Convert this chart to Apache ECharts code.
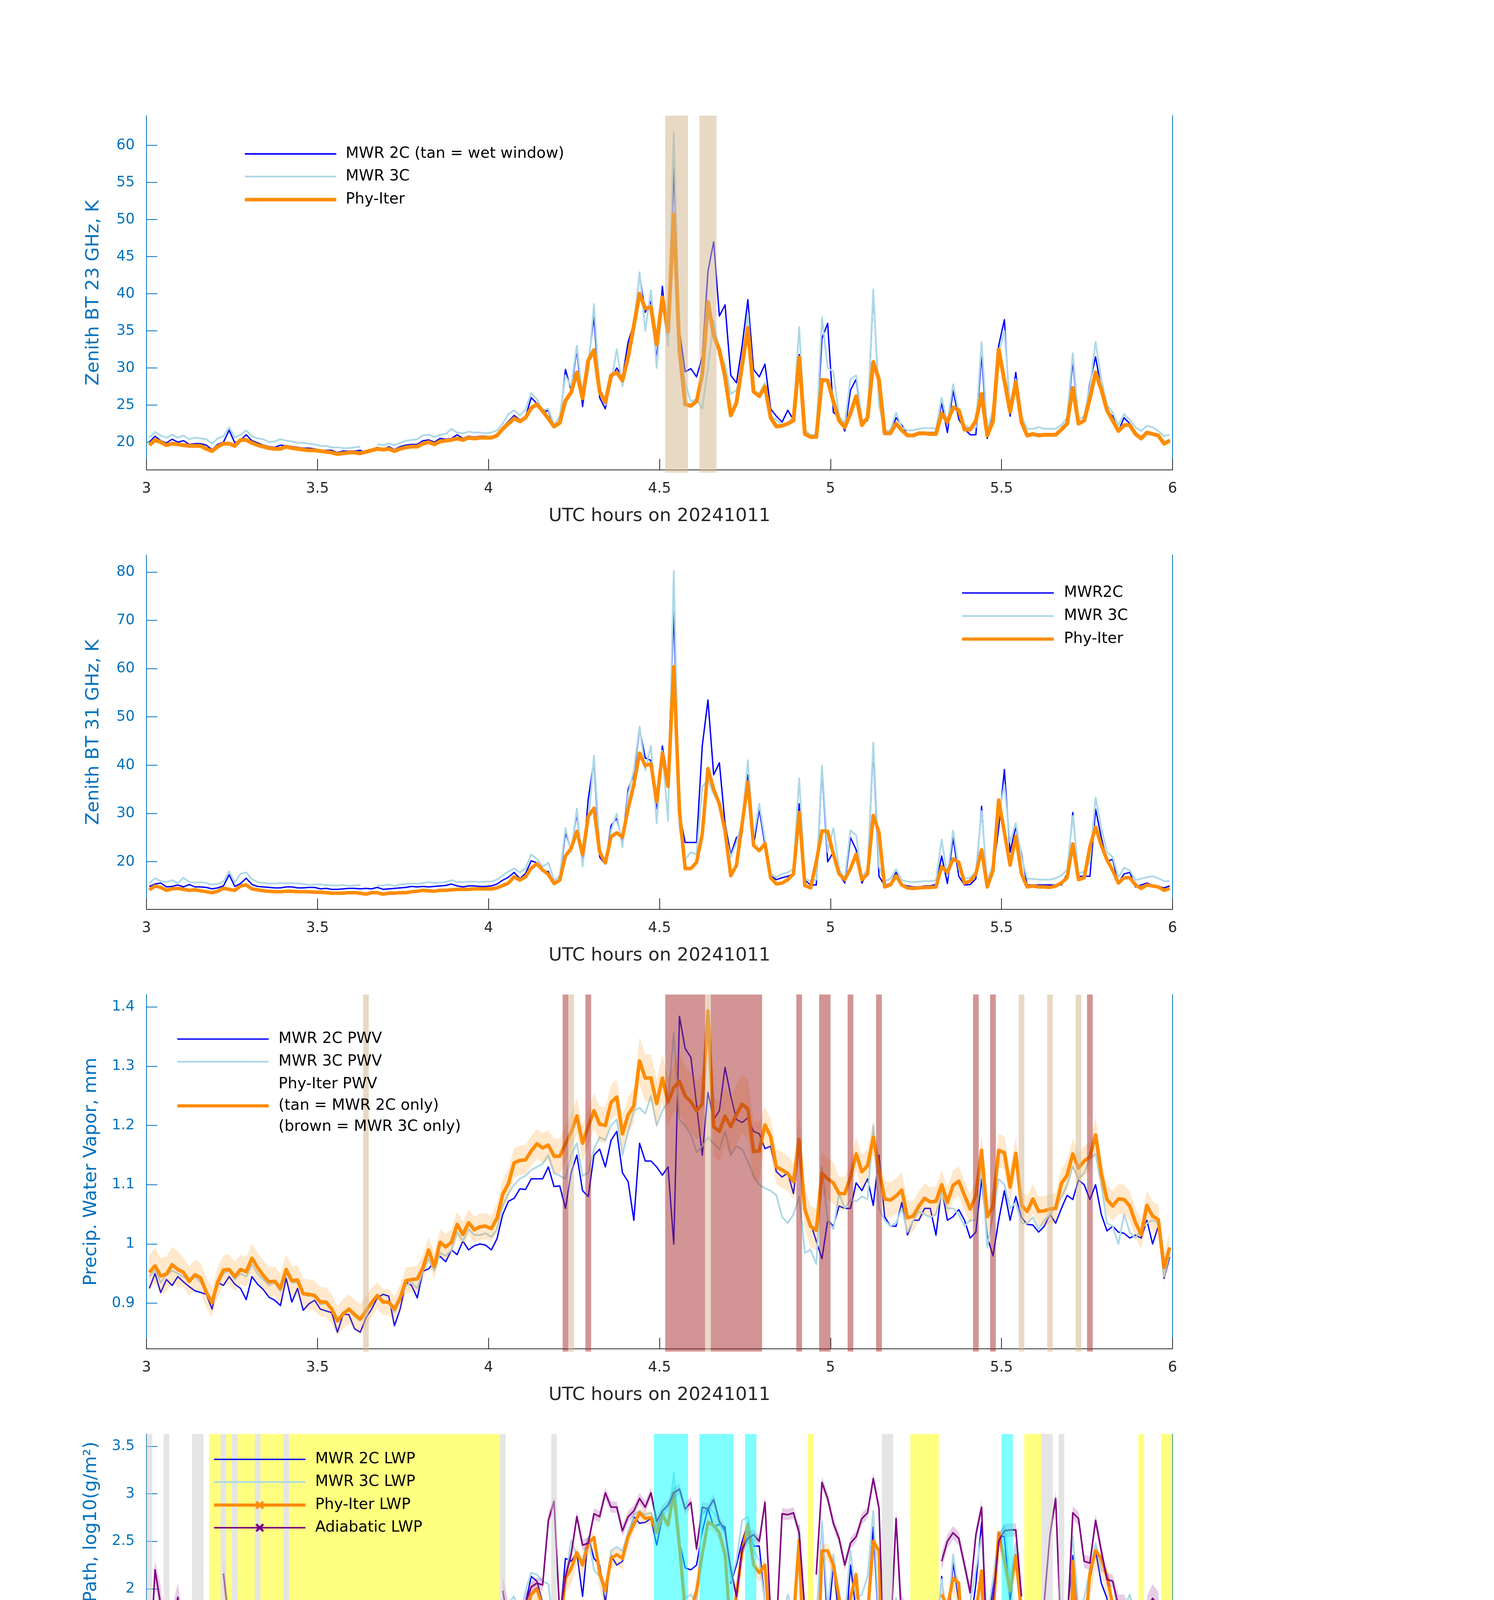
<!DOCTYPE html>
<html>
<head>
<meta charset="utf-8">
<title>MWR retrievals 20241011</title>
<script src="https://cdn.jsdelivr.net/npm/echarts@6/dist/echarts.min.js"></script>
<style>
    html, body { margin: 0; padding: 0; background: #fff; }
    #chart { width: 3825px; height: 6000px; }
</style>
</head>
<body>
<div id="chart"></div>
<script>
    // one value per minute, centred on the half minute, 3 to 6 UTC
    var hours = [];
    for (var k = 0; k < 180; k++) hours.push(3 + (k + 0.5) / 60);

    var xTicks = [3, 3.5, 4, 4.5, 5, 5.5, 6];
    var bt23Ticks = [20, 25, 30, 35, 40, 45, 50, 55, 60];
    var bt31Ticks = [20, 30, 40, 50, 60, 70, 80];
    var pwvTicks = [0.9, 1, 1.1, 1.2, 1.3, 1.4];
    var lwpTicks = [0, 0.5, 1, 1.5, 2, 2.5, 3, 3.5];
    var flagTicks = [0, 2, 4, 6, 8, 10];

    // ---- panel 1: 23 GHz brightness temperature
    var bt23Mwr2c = [
        20.0, 20.8, 20.2, 19.9, 20.4, 20.0, 20.2, 19.7, 19.8, 19.8,
        19.6, 19.0, 19.7, 20.0, 21.6, 19.9, 20.3, 21.0, 20.2, 19.9,
        19.6, 19.4, 19.3, 19.6, 19.5, 19.4, 19.3, 19.2, 19.2, 19.1,
        18.9, 18.9, 18.9, 18.6, 18.8, 18.8, 18.8, 18.9, 18.6, 19.0,
        19.3, 19.0, 19.4, 19.0, 19.4, 19.6, 19.7, 19.7, 20.2, 20.3,
        20.0, 20.5, 20.4, 20.5, 21.0, 20.5, 20.8, 20.7, 20.8, 20.8,
        20.7, 21.0, 22.0, 22.8, 23.6, 23.0, 23.4, 26.0, 25.2, 24.0,
        24.3, 22.0, 22.8, 29.8, 27.0, 32.5, 24.8, 30.5, 37.0, 26.0,
        24.5, 28.5, 30.0, 28.8, 33.5, 36.0, 42.5, 37.5, 39.0, 31.0,
        41.0, 33.5, 57.0, 35.0, 29.5, 29.9, 28.8, 31.5, 43.0, 47.0,
        37.0, 38.5, 29.0, 28.0, 33.0, 39.2, 29.8, 28.8, 30.5, 24.5,
        23.5, 22.7, 24.3, 23.0, 31.8, 21.3, 20.9, 20.9, 34.0, 36.0,
        24.0, 23.5, 21.5, 27.0, 28.5, 22.7, 22.9, 40.0, 26.0, 21.3,
        21.1, 23.3, 22.3, 21.0, 20.9, 21.3, 21.3, 21.3, 21.3, 25.3,
        21.3, 27.0, 23.1, 21.8, 21.0, 21.0, 32.0, 20.5, 24.0, 33.0,
        36.5, 23.5, 29.4, 23.1, 20.9, 21.0, 21.1, 21.0, 21.1, 21.1,
        21.5, 22.7, 31.0, 22.7, 22.9, 28.0, 31.5, 27.1, 24.3, 23.5,
        21.5, 23.3, 22.5, 21.3, 20.7, 21.1, 21.0, 20.8, 19.9, 20.3
    ];
    var bt23Mwr3c = [
        20.6, 21.4, 20.9, 20.6, 21.0, 20.6, 20.9, 20.4, 20.6, 20.5,
        20.4, 19.8, 20.5, 20.8, 22.0, 20.6, 21.0, 21.6, 20.8, 20.5,
        20.4, 20.0, 20.1, 20.4, 20.2, 20.1, 19.9, 19.9, 19.8, 19.7,
        19.5, 19.5, 19.3, 19.3, 19.2, 19.2, 19.3, 19.4, null, null,
        19.7, 19.6, 19.8, 19.6, 19.9, 20.2, 20.3, 20.4, 20.9, 21.0,
        20.7, 21.0, 21.1, 21.8, 21.3, 21.2, 21.4, 21.3, 21.3, 21.2,
        21.3, 21.6, 22.5, 23.8, 24.3, 23.6, 24.4, 26.6, 25.8, 24.3,
        24.5, 22.3, 23.5, 29.0, 27.5, 33.0, 26.0, 29.5, 38.6, 27.0,
        25.0, 28.0, 32.5, 27.5, 32.0, 35.5, 42.9, 35.0, 40.5, 30.0,
        39.0, 33.0, 61.8, 33.0, 28.0, 25.5, 25.8, 24.5, 30.0, 36.4,
        32.0, 30.5, 26.5, 27.0, 30.0, 37.4, 27.0, 26.5, 28.0, 23.5,
        23.0, 22.3, 22.5, 23.5, 35.5, 21.6, 21.0, 21.0, 36.8, 30.0,
        29.5, 23.5, 22.5, 28.5, 29.0, 23.0, 23.0, 40.6, 25.0, 21.5,
        21.6, 24.0, 22.0, 21.6, 21.6, 21.8, 21.9, 21.9, 21.8, 26.0,
        22.5, 27.8, 24.0, 22.3, 21.8, 22.0, 33.5, 21.5, 24.5, 32.0,
        35.0, 25.0, 28.5, 23.5, 21.8, 21.8, 22.0, 21.8, 21.8, 21.8,
        22.3, 23.3, 32.0, 23.0, 23.5, 27.5, 33.5, 28.5, 25.0, 24.0,
        22.3, 23.8, 23.0, 22.0, 21.5, 22.2, 22.0, 21.5, 20.8, 21.0
    ];
    var bt23Phy = [
        19.6, 20.3, 20.0, 19.6, 19.8, 19.7, 19.6, 19.5, 19.5, 19.5,
        19.1, 18.8, 19.4, 19.8, 19.8, 19.5, 20.3, 20.3, 19.9, 19.6,
        19.4, 19.2, 19.1, 19.1, 19.4, 19.2, 19.1, 19.0, 18.9, 18.9,
        18.8, 18.7, 18.6, 18.4, 18.5, 18.6, 18.6, 18.5, 18.7, 18.9,
        19.1, 19.0, 19.1, 18.8, 19.1, 19.3, 19.4, 19.4, 19.8, 20.0,
        19.7, 20.1, 20.2, 20.3, 20.5, 20.3, 20.6, 20.5, 20.6, 20.6,
        20.6, 20.9, 21.8, 22.5, 23.2, 22.8, 23.3, 24.6, 25.1, 24.2,
        23.2, 22.1, 22.6, 25.6, 26.7, 29.4, 25.9, 31.0, 32.4, 26.8,
        25.4, 29.0, 29.4, 28.3, 31.5, 35.7, 40.0, 38.0, 38.2, 33.2,
        39.5, 34.9, 50.7, 32.4, 25.1, 24.9, 25.5, 29.1, 38.9, 34.4,
        32.4, 28.8, 23.6, 25.3, 30.4, 35.4, 26.8, 26.2, 27.5, 23.3,
        22.1, 22.2, 22.5, 22.9, 31.4, 21.1, 20.7, 20.7, 28.4, 28.3,
        25.5, 22.9, 22.0, 23.9, 26.2, 22.3, 23.3, 30.8, 28.4, 21.2,
        21.2, 22.5, 21.6, 20.9, 20.9, 21.2, 21.2, 21.1, 21.1, 23.9,
        22.7, 24.7, 24.3, 21.7, 21.7, 22.9, 26.5, 20.9, 22.8, 32.5,
        28.3, 24.1, 28.1, 22.7, 20.9, 21.1, 20.9, 21.0, 21.0, 21.0,
        21.7, 22.5, 27.3, 22.5, 22.9, 25.9, 29.4, 27.1, 24.3, 22.9,
        21.5, 22.3, 22.3, 21.1, 20.5, 21.3, 21.1, 20.9, 19.8, 20.2
    ];
    var wetWindows = [[4.5167, 4.5833], [4.6167, 4.6667]];

    // ---- panel 2: 31 GHz brightness temperature
    var bt31Mwr2c = [
        14.9, 15.4, 15.6, 14.8, 14.9, 15.2, 14.8, 15.3, 14.8, 14.8,
        14.7, 14.4, 14.6, 15.0, 17.3, 14.9, 15.5, 16.6, 15.3, 14.9,
        14.8, 14.7, 14.6, 14.6, 14.8, 14.8, 14.6, 14.6, 14.7, 14.7,
        14.4, 14.5, 14.3, 14.3, 14.4, 14.5, 14.5, 14.4, 14.5, 14.4,
        14.7, 14.3, 14.4, 14.5, 14.6, 14.7, 14.9, 14.8, 14.9, 14.8,
        14.9, 15.0, 15.1, 15.4, 15.0, 14.8, 15.0, 15.0, 14.9, 14.9,
        15.0, 15.4, 16.2, 16.8, 17.8, 16.5, 17.6, 20.2, 19.8, 18.0,
        18.0, 15.6, 16.5, 26.0, 22.5, 30.0, 19.5, 33.0, 41.0, 21.0,
        19.5, 27.5, 29.0, 24.0, 35.0, 38.0, 47.5, 41.5, 41.0, 31.0,
        44.0, 37.0, 72.0, 30.0, 24.0, 24.0, 24.0, 44.0, 53.5, 38.0,
        40.5, 27.9, 21.5, 25.0, 26.0, 38.0, 23.4, 30.9, 23.4, 17.1,
        16.3, 16.7, 17.0, 17.5, 32.0, 16.2, 15.2, 15.2, 39.1, 20.0,
        22.0, 17.5, 15.6, 25.0, 22.5, 15.6, 18.0, 43.5, 17.0, 15.1,
        15.5, 17.8, 15.3, 15.0, 14.8, 14.8, 15.0, 15.0, 15.3, 21.2,
        15.5, 25.0, 17.0, 15.2, 15.3, 16.5, 31.5, 14.8, 18.0, 27.0,
        39.1, 22.0, 27.2, 21.6, 15.2, 15.2, 15.2, 15.2, 15.2, 15.2,
        15.2, 17.5, 30.2, 17.0, 17.0, 17.0, 30.9, 25.0, 20.1, 20.5,
        15.6, 17.5, 17.8, 14.8, 15.2, 15.6, 15.2, 14.9, 14.6, 15.0
    ];
    var bt31Mwr3c = [
        15.6, 16.6, 16.0, 15.8, 16.2, 15.6, 16.7, 15.8, 15.7, 15.8,
        15.6, 15.3, 15.4, 15.9, 18.0, 15.7, 17.5, 17.8, 16.4, 15.8,
        15.6, 15.5, 15.5, 15.6, 15.5, 15.6, 15.5, 15.4, 15.2, 15.3,
        15.3, 15.2, 15.1, 15.1, 15.2, 15.0, 15.1, 15.2, null, null,
        15.1, 15.1, 15.3, 15.0, 15.3, 15.4, 15.5, 15.4, 15.6, 15.8,
        15.6, 15.7, 15.8, 16.2, 15.8, 15.8, 15.9, 15.9, 15.8, 15.9,
        15.9, 16.3, 17.2, 18.0, 18.6, 17.8, 18.6, 21.5, 20.6, 19.0,
        19.8, 16.2, 17.0, 27.0, 22.0, 31.0, 19.0, 28.0, 42.0, 23.0,
        19.5, 26.5, 30.0, 23.0, 34.0, 39.0, 48.0, 39.0, 44.0, 28.0,
        43.0, 28.5, 80.2, 27.0, 20.5, 22.0, 21.5, 35.5, 37.0, 34.0,
        32.0, 26.0, 21.0, 24.0, 28.0, 41.0, 25.0, 32.0, 24.5, 17.5,
        16.8, 17.5, 17.8, 18.5, 37.3, 16.5, 16.0, 16.3, 39.9, 22.0,
        27.0, 18.5, 16.5, 26.5, 25.5, 16.8, 18.5, 44.7, 19.0, 16.0,
        16.5, 18.5, 16.2, 15.9, 15.8, 15.9, 16.0, 16.0, 16.2, 24.6,
        17.0, 26.5, 18.5, 16.5, 16.7, 18.0, 30.5, 16.0, 19.5, 29.5,
        36.0, 24.0, 28.0, 21.0, 16.5, 16.5, 16.3, 16.3, 16.3, 16.6,
        17.2, 18.3, 29.5, 17.5, 18.0, 20.0, 33.3, 27.0, 22.0, 21.0,
        16.8, 18.8, 18.2, 16.2, 16.5, 16.8, 17.0, 16.6, 16.0, 16.0
    ];
    var bt31Phy = [
        14.2, 15.0, 14.7, 14.1, 14.4, 14.5, 14.3, 14.1, 14.2, 14.0,
        13.8, 13.6, 13.9, 14.5, 14.3, 14.1, 15.0, 15.2, 14.4, 14.2,
        14.0, 13.9, 13.8, 13.8, 13.9, 13.9, 13.8, 13.8, 13.8, 13.7,
        13.7, 13.6, 13.5, 13.5, 13.5, 13.6, 13.6, 13.5, 13.3, 13.6,
        13.6, 13.3, 13.5, 13.5, 13.6, 13.6, 13.8, 13.9, 14.1, 14.0,
        13.9, 14.1, 14.1, 14.2, 14.3, 14.3, 14.3, 14.4, 14.4, 14.4,
        14.4, 14.6, 15.1, 15.6, 16.9, 16.2, 16.9, 18.7, 19.6, 18.3,
        17.4, 15.5, 16.2, 21.2, 22.8, 26.3, 21.5, 29.4, 31.1, 22.0,
        19.8, 25.2, 26.0, 25.1, 31.0, 36.0, 42.5, 39.9, 40.3, 32.4,
        42.5, 35.6, 60.4, 30.5, 18.6, 18.6, 19.9, 25.7, 39.3, 35.0,
        32.0, 26.4, 17.1, 19.3, 27.9, 36.5, 23.4, 22.3, 23.8, 16.7,
        15.4, 15.6, 16.3, 17.5, 30.2, 15.1, 14.6, 20.0, 26.4, 26.3,
        21.6, 17.5, 16.3, 18.6, 21.6, 16.3, 17.5, 29.6, 26.1, 14.8,
        15.2, 17.1, 15.2, 14.6, 14.5, 14.6, 14.7, 14.7, 14.8, 19.0,
        17.8, 20.6, 19.9, 15.6, 16.0, 17.5, 22.5, 14.8, 18.2, 32.8,
        26.1, 19.3, 25.3, 17.5, 14.8, 15.0, 14.8, 14.8, 14.7, 15.0,
        15.6, 16.7, 23.7, 16.3, 16.7, 23.1, 27.2, 23.4, 20.4, 18.2,
        15.6, 16.7, 16.7, 15.2, 14.5, 15.2, 15.0, 14.8, 14.1, 14.5
    ];

    // ---- panel 3: precipitable water vapour
    var pwvMwr2c = [
        0.925, 0.950, 0.918, 0.940, 0.930, 0.945, 0.936, 0.928, 0.921, 0.918,
        0.915, 0.890, 0.935, 0.930, 0.945, 0.932, 0.925, 0.906, 0.945, 0.932,
        0.923, 0.910, 0.905, 0.896, 0.942, 0.902, 0.925, 0.888, 0.899, 0.905,
        0.890, 0.887, 0.884, 0.851, 0.881, 0.881, 0.857, 0.851, 0.875, 0.890,
        0.909, 0.915, 0.912, 0.862, 0.890, 0.936, 0.930, 0.909, 0.954, 0.958,
        0.970, 0.979, 0.970, 0.990, 0.982, 1.005, 0.990, 0.997, 1.000, 0.998,
        0.990, 1.009, 1.050, 1.072, 1.077, 1.093, 1.092, 1.110, 1.110, 1.110,
        1.130, 1.097, 1.098, 1.060, 1.120, 1.150, 1.090, 1.080, 1.150, 1.160,
        1.130, 1.175, 1.190, 1.120, 1.105, 1.040, 1.170, 1.140, 1.140, 1.130,
        1.116, 1.130, 1.000, 1.384, 1.330, 1.315, 1.235, 1.150, 1.256, 1.210,
        1.225, 1.298, 1.250, 1.210, 1.205, 1.213, 1.190, 1.186, 1.161, 1.165,
        1.122, 1.113, 1.120, 1.085, 1.165, 1.052, 1.035, 1.005, 0.975, 1.040,
        1.030, 1.064, 1.060, 1.060, 1.103, 1.090, 1.110, 1.065, 1.150, 1.046,
        1.030, 1.030, 1.070, 1.015, 1.040, 1.040, 1.060, 1.060, 1.015, 1.094,
        1.040, 1.046, 1.058, 1.040, 1.010, 1.020, 1.110, 1.012, 0.980, 1.040,
        1.090, 1.040, 1.080, 1.045, 1.033, 1.032, 1.020, 1.030, 1.050, 1.035,
        1.060, 1.082, 1.075, 1.108, 1.100, 1.075, 1.100, 1.050, 1.022, 1.030,
        1.020, 1.018, 1.010, 1.015, 1.010, 1.040, 1.000, 1.030, 0.942, 0.978
    ];
    var pwvMwr3c = [
        0.945, 0.955, 0.935, 0.948, 0.955, 0.950, 0.945, 0.938, 0.945, 0.935,
        0.920, 0.900, 0.930, 0.950, 0.955, 0.940, 0.950, 0.945, 0.965, 0.950,
        0.940, 0.930, 0.935, 0.920, 0.950, 0.935, 0.935, 0.915, 0.912, 0.915,
        0.898, 0.900, 0.890, 0.870, 0.885, 0.888, 0.878, 0.870, null, null,
        0.910, 0.905, 0.900, 0.885, 0.905, 0.930, 0.935, 0.925, 0.955, 0.975,
        0.955, 0.985, 0.980, 0.990, 1.020, 1.005, 1.025, 1.015, 1.015, 1.018,
        1.012, 1.025, 1.065, 1.085, 1.100, 1.110, 1.115, 1.125, 1.130, 1.135,
        1.150, 1.120, 1.115, 1.110, 1.150, 1.170, 1.115, 1.120, 1.160, 1.180,
        1.175, 1.200, 1.210, 1.150, 1.190, 1.225, 1.230, 1.220, 1.250, 1.200,
        1.225, 1.240, 1.356, 1.210, 1.200, 1.185, 1.155, 1.165, 1.180, 1.170,
        1.160, 1.190, 1.150, 1.165, 1.160, 1.140, 1.115, 1.100, 1.094, 1.090,
        1.082, 1.046, 1.035, 1.050, 1.080, 0.985, 0.990, 0.966, 1.130, 1.040,
        1.025, 1.085, 1.060, 1.075, 1.072, 1.080, 1.076, 1.200, 1.060, 1.040,
        1.030, 1.035, 1.060, 1.020, 1.040, 1.055, 1.050, 1.045, 1.050, 1.088,
        1.060, 1.060, 1.050, 1.030, 1.040, 1.040, 1.131, 0.995, 1.050, 1.110,
        1.100, 1.060, 1.070, 1.035, 1.035, 1.045, 1.025, 1.040, 1.050, 1.065,
        1.078, 1.100, 1.131, 1.110, 1.120, 1.143, 1.152, 1.100, 1.035, 1.030,
        1.000, 1.050, 1.020, 1.010, 1.025, 1.035, 1.040, 1.035, 0.945, 0.985
    ];
    var pwvPhy = [
        0.952, 0.963, 0.946, 0.949, 0.965, 0.957, 0.952, 0.937, 0.948, 0.943,
        0.918, 0.901, 0.936, 0.956, 0.957, 0.945, 0.957, 0.953, 0.976, 0.960,
        0.947, 0.936, 0.937, 0.925, 0.957, 0.938, 0.939, 0.916, 0.915, 0.913,
        0.902, 0.902, 0.890, 0.870, 0.882, 0.890, 0.881, 0.873, 0.887, 0.901,
        0.913, 0.902, 0.902, 0.890, 0.909, 0.938, 0.940, 0.941, 0.960, 0.990,
        0.962, 1.003, 0.995, 1.003, 1.033, 1.016, 1.036, 1.024, 1.029, 1.030,
        1.026, 1.044, 1.084, 1.102, 1.137, 1.141, 1.142, 1.157, 1.169, 1.162,
        1.167, 1.148, 1.148, 1.169, 1.189, 1.216, 1.170, 1.198, 1.225, 1.202,
        1.200, 1.239, 1.248, 1.186, 1.218, 1.233, 1.309, 1.280, 1.280, 1.237,
        1.280, 1.240, 1.264, 1.274, 1.250, 1.240, 1.225, 1.236, 1.393, 1.198,
        1.190, 1.216, 1.198, 1.219, 1.236, 1.228, 1.156, 1.157, 1.201, 1.181,
        1.130, 1.125, 1.119, 1.105, 1.176, 1.058, 1.030, 1.023, 1.119, 1.110,
        1.103, 1.085, 1.085, 1.113, 1.152, 1.122, 1.132, 1.180, 1.125, 1.076,
        1.074, 1.081, 1.091, 1.044, 1.047, 1.064, 1.077, 1.071, 1.072, 1.100,
        1.070, 1.099, 1.106, 1.082, 1.059, 1.082, 1.158, 1.046, 1.064, 1.158,
        1.154, 1.096, 1.153, 1.065, 1.055, 1.076, 1.055, 1.056, 1.059, 1.060,
        1.102, 1.116, 1.152, 1.128, 1.140, 1.147, 1.184, 1.119, 1.075, 1.064,
        1.076, 1.075, 1.064, 1.036, 1.016, 1.065, 1.047, 1.041, 0.960, 0.994
    ];
    var pwvPhyErr = [
        0.030, 0.030, 0.030, 0.030, 0.030, 0.030, 0.025, 0.025, 0.025, 0.025,
        0.025, 0.025, 0.025, 0.025, 0.025, 0.025, 0.025, 0.025, 0.025, 0.025,
        0.025, 0.025, 0.025, 0.025, 0.025, 0.025, 0.025, 0.025, 0.025, 0.025,
        0.025, 0.025, 0.025, 0.025, 0.025, 0.025, 0.025, 0.025, 0.025, 0.025,
        0.022, 0.022, 0.022, 0.022, 0.022, 0.022, 0.022, 0.022, 0.022, 0.022,
        0.022, 0.022, 0.022, 0.022, 0.022, 0.022, 0.022, 0.022, 0.022, 0.022,
        0.022, 0.025, 0.025, 0.025, 0.025, 0.025, 0.025, 0.025, 0.025, 0.025,
        0.025, 0.030, 0.030, 0.030, 0.030, 0.030, 0.030, 0.030, 0.030, 0.030,
        0.030, 0.030, 0.030, 0.030, 0.030, 0.030, 0.040, 0.040, 0.040, 0.040,
        0.040, 0.040, 0.040, 0.050, 0.050, 0.050, 0.050, 0.050, 0.050, 0.050,
        0.050, 0.050, 0.050, 0.050, 0.050, 0.050, 0.050, 0.050, 0.030, 0.030,
        0.030, 0.030, 0.030, 0.030, 0.040, 0.035, 0.035, 0.035, 0.035, 0.035,
        0.035, 0.028, 0.028, 0.028, 0.028, 0.028, 0.028, 0.028, 0.028, 0.030,
        0.030, 0.030, 0.030, 0.030, 0.025, 0.025, 0.025, 0.025, 0.025, 0.025,
        0.025, 0.025, 0.025, 0.025, 0.025, 0.025, 0.028, 0.028, 0.028, 0.028,
        0.028, 0.028, 0.028, 0.025, 0.025, 0.025, 0.025, 0.025, 0.025, 0.025,
        0.025, 0.025, 0.025, 0.025, 0.025, 0.025, 0.030, 0.025, 0.025, 0.025,
        0.025, 0.025, 0.025, 0.025, 0.025, 0.025, 0.025, 0.025, 0.025, 0.025
    ];
    var only2cWindows = [[3.6333, 3.65], [4.2333, 4.25], [4.6333, 4.65], [5.55, 5.5667], [5.6333, 5.65], [5.7167, 5.7333]];
    var only3cWindows = [[4.2167, 4.2333], [4.2833, 4.3], [4.5167, 4.6333], [4.65, 4.8], [4.9, 4.9167], [4.9667, 5.0],
        [5.05, 5.0667], [5.1333, 5.15], [5.4167, 5.4333], [5.4667, 5.4833], [5.75, 5.7667]];

    // ---- panel 4: liquid water path, log10(g/m2)
    var lwpMwr2c = [
        1.30, 1.68, 1.52, 1.09, 1.41, 1.26, 1.22, 1.09, 1.20, 1.30,
        1.20, 0.88, 1.13, 1.26, 1.11, 1.16, 1.49, 1.60, 1.30, 1.14,
        1.11, 1.12, 1.18, 1.05, 1.10, 1.20, 1.08, 1.20, 1.10, 1.10,
        1.07, 1.24, 0.97, 1.10, 0.85, 1.10, 1.10, 1.18, 1.05, 1.12,
        1.10, 0.80, 1.05, 1.12, 1.10, 0.95, 1.17, 1.12, 1.16, 1.28,
        1.14, 1.14, 1.13, 1.18, 1.10, 1.24, 1.10, 1.22, 1.28, 1.23,
        1.19, 1.20, 1.40, 1.43, 1.77, 1.60, 1.85, 2.13, 2.08, 1.85,
        1.70, 1.35, 1.64, 2.32, 2.29, 2.38, 1.92, 2.55, 2.32, 2.25,
        1.85, 2.35, 2.25, 2.29, 2.59, 2.76, 2.69, 2.70, 2.74, 2.46,
        2.75, 2.68, 2.95, 2.50, 2.22, 2.20, 2.25, 2.60, 2.85, 2.65,
        2.68, 2.65, 2.06, 2.25, 2.50, 2.69, 2.45, 2.45, 1.85, 1.62,
        1.49, 1.49, 1.65, 1.72, 2.40, 1.50, 1.26, 1.64, 2.70, 1.60,
        2.25, 1.68, 1.40, 2.25, 1.75, 1.50, 1.83, 2.65, 1.56, 1.41,
        1.60, 1.90, 1.18, 1.25, 1.22, 1.15, 1.20, 1.34, 1.36, 2.13,
        1.50, 2.28, 1.87, 1.56, 1.60, 2.05, 2.70, 1.45, 2.05, 2.55,
        2.55, 1.87, 2.36, 1.64, 1.27, 1.35, 1.33, 1.18, 1.30, 1.22,
        1.37, 1.72, 2.35, 1.72, 1.72, 2.10, 2.40, 2.06, 1.90, 1.48,
        1.55, 1.70, 1.79, 1.30, 1.14, 1.45, 1.40, 1.35, 1.21, 1.25
    ];
    var lwpMwr3c = [
        1.45, 1.78, 1.60, 1.45, 1.40, 1.48, 1.42, 1.48, 1.50, 1.40,
        1.48, 1.39, 1.42, 1.80, 1.50, 1.55, 1.85, 1.85, 1.55, 1.48,
        1.45, 1.43, 1.44, 1.45, 1.44, 1.45, 1.44, 1.45, 1.44, 1.42,
        1.41, 1.44, 1.40, 1.38, 1.41, 1.39, 1.38, 1.41, null, null,
        1.40, 1.38, 1.39, 1.41, 1.40, 1.42, 1.41, 1.45, 1.43, 1.48,
        1.47, 1.45, 1.46, 1.45, 1.48, 1.50, 1.46, 1.47, 1.47, 1.48,
        1.47, 1.48, 1.50, 1.85, 1.92, 1.70, 1.98, 2.17, 2.15, 2.08,
        2.05, 1.56, 1.72, 2.10, 2.51, 2.35, 2.30, 2.55, 2.20, 2.13,
        1.94, 2.40, 2.44, 2.40, 2.60, 2.78, 2.82, 2.78, 2.80, 2.67,
        2.80, 2.67, 3.22, 2.55, 1.90, 1.94, 1.85, 2.78, 2.86, 2.80,
        2.70, 2.60, 2.08, 2.30, 2.72, 2.76, 2.40, 2.30, 1.85, 1.64,
        1.55, 1.62, 1.94, 1.75, 2.67, 1.65, 1.50, 1.62, 2.71, 1.80,
        2.36, 1.88, 1.70, 2.40, 1.90, 1.94, 2.13, 2.82, 1.65, 1.50,
        1.52, 1.90, 1.50, 1.49, 1.49, 1.48, 1.50, 1.50, 1.52, 2.10,
        1.65, 2.36, 1.95, 1.65, 1.85, 2.20, 2.55, 1.70, 2.10, 2.55,
        2.67, 2.10, 2.48, 1.80, 1.50, 1.52, 1.53, 1.55, 1.54, 1.50,
        1.55, 1.75, 2.55, 1.80, 1.90, 2.20, 2.48, 2.20, 2.15, 1.85,
        1.80, 1.80, 1.94, 1.65, 1.45, 1.49, 1.45, 1.45, 1.43, 1.42
    ];
    // -0.5 marks a retrieval that falls off the bottom of the log axis
    var lwpPhy = [
        -0.5, 1.30, 1.22, -0.5, 0.82, 0.72, -0.5, null, null, null,
        null, null, null, 0.82, 0.37, -0.5, 1.37, 1.45, 0.57, 0.33,
        null, null, null, null, null, null, null, null, null, null,
        null, null, null, null, null, null, null, null, null, null,
        null, null, null, null, null, null, null, null, null, null,
        null, null, null, null, null, null, null, null, null, null,
        null, null, 0.78, 1.30, 1.62, 1.37, 1.72, 1.94, 2.00, 1.81,
        1.60, 0.50, 1.56, 2.11, 2.21, 2.38, 2.25, 2.48, 2.54, 2.17,
        1.98, 2.32, 2.36, 2.32, 2.55, 2.68, 2.80, 2.74, 2.75, 2.59,
        2.78, 2.67, 3.01, 2.44, 1.77, 1.77, 1.98, 2.36, 2.70, 2.67,
        2.59, 2.36, 1.53, 1.94, 2.40, 2.67, 2.25, 2.17, 2.25, 1.45,
        0.73, 0.99, 1.41, 1.68, 2.51, 0.86, null, 0.69, 2.40, 2.40,
        2.25, 1.91, 1.49, 1.91, 2.15, 1.37, 1.72, 2.50, 2.40, 0.21,
        0.46, 1.66, 0.76, -0.5, null, null, null, null, null, 1.94,
        1.81, 2.11, 2.06, 1.11, 1.37, 1.75, 2.19, 0.54, 1.72, 2.59,
        2.30, 1.98, 2.34, 1.75, null, null, null, -0.5, -0.5, -0.5,
        -0.5, -0.5, 2.29, 1.32, 1.47, 2.17, 2.40, 2.32, 2.13, 1.83,
        1.13, 1.60, 1.65, 1.15, null, 0.92, 0.99, 0.76, null, null
    ];
    var lwpPhyLo = [
        -0.5, -0.5, -0.5, -0.5, -0.5, -0.5, -0.5, -0.5, -0.5, -0.5,
        -0.5, null, null, -0.5, -0.5, -0.5, -0.5, -0.5, -0.5, -0.5,
        null, null, null, null, null, null, null, null, null, null,
        null, null, null, null, null, null, null, null, null, null,
        null, null, null, null, null, null, null, null, null, null,
        null, null, null, null, null, null, null, null, null, null,
        null, null, -0.5, 0.5, 1.2, 1.1, 1.5, 1.75, 1.85, 1.6,
        1.3, -0.5, 1.3, 1.95, 2.05, 2.25, 2.1, 2.35, 2.42, 2.0,
        1.8, 2.2, 2.25, 2.2, 2.45, 2.6, 2.72, 2.67, 2.68, 2.5,
        2.7, 2.6, 2.93, 2.3, 1.5, 1.5, 1.8, 2.28, 2.62, 2.6,
        2.5, 2.25, 0.9, 1.7, 2.3, 2.58, 2.15, 2.07, 2.15, 1.1,
        -0.5, -0.5, 0.6, 1.2, 2.2, -0.5, null, -0.5, 2.3, 2.3,
        2.1, 1.6, 1.0, 1.7, 2.0, 0.8, 1.5, 2.4, 2.3, -0.5,
        -0.5, 1.2, -0.5, -0.5, null, null, null, null, null, 1.7,
        1.6, 1.95, 1.8, -0.5, 0.6, 1.5, 2.0, -0.5, 1.4, 2.45,
        2.15, 1.75, 2.2, 1.55, null, null, null, -0.5, -0.5, -0.5,
        -0.5, -0.5, 1.9, 0.3, 0.9, 1.9, 2.2, 2.15, 1.9, 1.5,
        -0.5, 1.1, 1.2, 0.4, -0.5, -0.5, -0.5, -0.5, null, null
    ];
    var lwpPhyHi = [
        1.35, 1.40, 1.35, 1.30, 1.30, 1.25, 1.10, 1.0, 0.9, 0.8,
        0.7, null, null, 1.0, 0.6, 0.5, 1.5, 1.6, 1.55, 1.45,
        null, null, null, null, null, null, null, null, null, null,
        null, null, null, null, null, null, null, null, null, null,
        null, null, null, null, null, null, null, null, null, null,
        null, null, null, null, null, null, null, null, null, null,
        null, null, 1.3, 1.45, 1.75, 1.5, 1.85, 2.05, 2.1, 1.9,
        1.7, 0.75, 1.7, 2.2, 2.3, 2.45, 2.33, 2.55, 2.6, 2.25,
        2.05, 2.4, 2.42, 2.4, 2.62, 2.75, 2.86, 2.81, 2.82, 2.66,
        2.85, 2.74, 3.08, 2.5, 1.85, 1.85, 2.05, 2.43, 2.77, 2.74,
        2.66, 2.43, 1.6, 2.0, 2.47, 2.74, 2.32, 2.24, 2.32, 1.55,
        0.85, 1.1, 1.5, 1.75, 2.56, 1.0, null, 0.8, 2.47, 2.47,
        2.32, 2.0, 1.6, 2.0, 2.22, 1.45, 1.8, 2.56, 2.46, 0.5,
        0.7, 1.75, 0.9, -0.3, null, null, null, null, null, 2.0,
        1.9, 2.18, 2.12, 1.2, 1.45, 1.82, 2.25, 0.7, 1.8, 2.65,
        2.38, 2.05, 2.4, 1.8, null, null, null, 1.05, 1.05, 1.05,
        1.05, 1.05, 2.35, 1.4, 1.55, 2.22, 2.45, 2.38, 2.2, 1.9,
        1.25, 1.7, 1.72, 1.25, 1.3, 1.3, 1.3, 1.3, null, null
    ];
    var lwpAdia = [
        1.05, 2.20, 1.83, 1.07, 1.60, 1.91, 1.37, 1.18, 1.05, 1.05,
        1.14, null, null, 2.16, 1.64, 1.05, 1.56, 1.73, 1.37, 1.35,
        null, null, null, null, 1.07, null, null, null, null, null,
        null, null, null, null, null, null, null, null, null, null,
        null, null, null, null, null, null, null, null, null, null,
        null, null, null, null, null, null, null, null, null, null,
        null, null, 1.98, 1.64, 1.54, 1.41, 1.85, 2.02, 2.06, 2.04,
        2.72, 2.92, 1.72, 2.13, 2.36, 2.76, 2.46, 2.48, 2.79, 2.76,
        3.01, 2.86, 2.86, 2.61, 2.76, 2.82, 2.95, 2.86, 3.01, 2.71,
        2.82, 2.88, 3.01, 3.05, 2.84, 2.91, 2.42, 2.86, 2.84, 2.94,
        2.71, 2.61, 2.21, 1.92, 2.42, 2.53, 2.57, 2.50, 2.91, 1.72,
        1.58, 2.79, 2.78, 2.80, 2.59, 1.77, null, 2.15, 3.12, 2.95,
        2.69, 2.53, 2.25, 2.48, 2.55, 2.74, 2.80, 3.16, 2.85, 1.11,
        1.45, 2.74, 1.64, 1.30, null, null, null, null, null, 2.29,
        2.50, 2.59, 2.53, 2.25, 1.96, 2.57, 2.86, 1.26, 1.87, 2.50,
        2.61, 2.62, 2.62, 1.92, null, null, null, 1.87, 2.57, 2.95,
        1.39, 1.56, 2.80, 2.74, 2.29, 2.27, 2.72, 2.40, 2.10, 2.08,
        1.82, 1.82, 1.60, 1.30, null, 1.77, 1.90, 1.82, null, null
    ];
    var lwpAdiaErr = [
        0.30, 0.10, 0.20, 0.30, 0.20, 0.15, 0.30, 0.50, 0.60, 0.60,
        0.50, null, null, 0.12, 0.15, 0.30, 0.20, 0.15, 0.10, 0.10,
        null, null, null, null, 0.40, null, null, null, null, null,
        null, null, null, null, null, null, null, null, null, null,
        null, null, null, null, null, null, null, null, null, null,
        null, null, null, null, null, null, null, null, null, null,
        null, null, 0.15, 0.20, 0.25, 0.25, 0.10, 0.06, 0.06, 0.06,
        0.08, 0.06, 0.10, 0.06, 0.06, 0.06, 0.06, 0.06, 0.06, 0.06,
        0.06, 0.06, 0.06, 0.06, 0.06, 0.06, 0.06, 0.06, 0.06, 0.06,
        0.06, 0.06, 0.06, 0.06, 0.06, 0.06, 0.06, 0.06, 0.06, 0.06,
        0.06, 0.06, 0.06, 0.06, 0.06, 0.06, 0.06, 0.06, 0.06, 0.06,
        0.06, 0.06, 0.06, 0.06, 0.06, 0.06, null, 0.10, 0.06, 0.06,
        0.06, 0.06, 0.06, 0.06, 0.06, 0.06, 0.06, 0.06, 0.06, 0.25,
        0.25, 0.10, 0.30, 0.50, null, null, null, null, null, 0.10,
        0.07, 0.07, 0.07, 0.07, 0.07, 0.07, 0.07, 0.10, 0.07, 0.07,
        0.07, 0.07, 0.07, 0.07, null, null, null, 0.12, 0.08, 0.08,
        0.15, 0.15, 0.07, 0.07, 0.07, 0.07, 0.07, 0.07, 0.07, 0.07,
        0.12, 0.12, 0.20, 0.40, null, 0.15, 0.15, 0.15, null, null
    ];
    var flagOtherWindows = [[3.0, 3.0167], [3.05, 3.0667], [3.1333, 3.1667], [3.2167, 3.2333], [3.25, 3.2667],
        [3.3167, 3.3333], [3.4, 3.4167], [4.0333, 4.05], [4.1833, 4.2], [5.15, 5.1833], [5.6167, 5.65], [5.6667, 5.6833]];
    var clearWindows = [[3.1833, 3.2167], [3.2333, 3.25], [3.2667, 3.3167], [3.3333, 3.4], [3.4167, 4.0333],
        [4.9333, 4.95], [5.2333, 5.3167], [5.5667, 5.6167], [5.9, 5.9167], [5.9667, 6.0]];
    var rainWindows = [[4.4833, 4.5833], [4.6167, 4.7167], [4.75, 4.7833], [5.5, 5.5333]];

    // ---- panel 5: data quality flag (one per minute, plus extra flags in some minutes)
    var dqFlag = [
        4, 0, 0, 4, 0, 0, 0, 0, 4, 4,
        0, 5, 5, 3, 0, 4, 0, 0, 0, 4,
        5, 5, 5, 5, 4, 5, 5, 5, 5, 5,
        5, 5, 5, 5, 5, 5, 5, 5, 5, 5,
        5, 5, 5, 5, 5, 5, 5, 5, 5, 5,
        5, 5, 5, 5, 5, 5, 5, 5, 5, 5,
        5, 5, 3, 0, 0, 0, 0, 0, 0, 0,
        0, 3, 0, 0, 0, 0, 0, 0, 0, 0,
        0, 0, 0, 0, 0, 0, 0, 0, 0, 10,
        10, 10, 10, 10, 11, 0, 0, 10, 10, 10,
        10, 11, 11, 0, 0, 10, 11, 0, 0, 0,
        0, 0, 0, 0, 0, 0, 5, 0, 0, 0,
        0, 0, 0, 0, 0, 0, 0, 0, 0, 4,
        4, 0, 0, 0, 5, 5, 5, 5, 5, 0,
        0, 0, 0, 0, 0, 0, 0, 0, 0, 0,
        10, 11, 0, 0, 5, 5, 5, 3, 3, 0,
        3, 0, 0, 0, 0, 0, 0, 0, 0, 0,
        0, 0, 0, 0, 5, 0, 0, 0, 5, 5
    ];
    var dqFlagExtra = [[89, 11], [90, 11], [91, 11], [92, 11], [93, 11], [92, 9],
        [97, 11], [98, 11], [99, 11], [100, 11], [105, 11], [150, 11]];

    // ---------------------------------------------------------------
    var FONT = 'DejaVu Sans';
    var AXIS_BLUE = '#0072BD';
    var DARK = '#262626';
    var C_2C = '#0000FF', C_3C = '#ADD8E6', C_PHY = '#FF8C00', C_ADIA = '#800080';

    var gridTops = [296, 1421, 2546, 3671, 4796];
    var GRID_LEFT = 375, GRID_W = 2627, GRID_H = 907;

    function pts(vals) {
        return vals.map(function (v, i) { return [hours[i], v]; });
    }
    function isolated(vals) {
        var out = [];
        vals.forEach(function (v, i) {
            if (v != null && (i === 0 || vals[i - 1] == null) && (i === vals.length - 1 || vals[i + 1] == null)) out.push([hours[i], v]);
        });
        return out;
    }
    function line(g, name, vals, color, width, z) {
        return {
            type: 'line', name: name, xAxisIndex: g, yAxisIndex: g, data: pts(vals),
            symbol: 'none', showSymbol: false, connectNulls: false, clip: true, silent: true,
            lineStyle: { color: color, width: width, join: 'round' }, itemStyle: { color: color }, z: z
        };
    }
    // shaded uncertainty: one polygon per run of valid minutes, placed with the axis scales
    function ciBand(g, lo, hi, color, z) {
        return {
            type: 'custom', xAxisIndex: g, yAxisIndex: g, data: [[4.5, 1]], silent: true, z: z, clip: false,
            renderItem: function (params, api) {
                var cs = params.coordSys, kids = [], run = [];
                function clampY(p) { return [p[0], Math.min(Math.max(p[1], cs.y), cs.y + cs.height)]; }
                function flush() {
                    if (run.length > 1) {
                        var up = run.map(function (i) { return clampY(api.coord([hours[i], hi[i]])); });
                        var dn = run.slice().reverse().map(function (i) { return clampY(api.coord([hours[i], lo[i]])); });
                        kids.push({ type: 'polygon', shape: { points: up.concat(dn) }, style: { fill: color } });
                    }
                    run = [];
                }
                for (var i = 0; i < lo.length; i++) {
                    if (lo[i] == null || hi[i] == null) flush(); else run.push(i);
                }
                flush();
                return { type: 'group', children: kids };
            }
        };
    }
    function windows(g, list, color) {
        return {
            type: 'custom', xAxisIndex: g, yAxisIndex: g, data: list, encode: { x: [0, 1] }, silent: true, z: 8, clip: false,
            renderItem: function (params, api) {
                var cs = params.coordSys;
                var x0 = Math.max(api.coord([api.value(0), 0])[0], cs.x);
                var x1 = Math.min(api.coord([api.value(1), 0])[0], cs.x + cs.width);
                return { type: 'rect', shape: { x: x0, y: cs.y, width: Math.max(x1 - x0, 0), height: cs.height + 7 }, style: { fill: color } };
            }
        };
    }
    function lowHigh(vals, err, sign) {
        return vals.map(function (v, i) { return (v == null || err[i] == null) ? null : v + sign * err[i]; });
    }

    var yDefs = [
        { min: 16.26, max: 64, ticks: bt23Ticks, name: 'Zenith BT 23 GHz, K', gap: 112 },
        { min: 10.15, max: 83.5, ticks: bt31Ticks, name: 'Zenith BT 31 GHz, K', gap: 112 },
        { min: 0.823, max: 1.421, ticks: pwvTicks, name: 'Precip. Water Vapor, mm', gap: 118 },
        { min: -0.1, max: 3.63, ticks: lwpTicks, name: 'log10 Liquid Water Path, log10(g/m\u00B2)', gap: 118 },
        { min: -0.5, max: 11.5, ticks: flagTicks, name: 'MWR Phy Iter DQ Flag', gap: 110 }
    ];

    var grids = [], xAxes = [], yAxes = [];
    gridTops.forEach(function (top, i) {
        grids.push({ left: GRID_LEFT, top: top, width: GRID_W, height: GRID_H, containLabel: false });
        xAxes.push({
            type: 'value', gridIndex: i, min: 3, max: 6, interval: 0.5,
            axisLine: { show: true, onZero: false, lineStyle: { color: DARK, width: 2 } },
            axisTick: { show: true, inside: true, length: 28, customValues: xTicks, lineStyle: { color: DARK, width: 2 } },
            axisLabel: { color: DARK, fontSize: 37, fontFamily: FONT, margin: 30, customValues: xTicks },
            splitLine: { show: false },
            name: 'UTC hours on 20241011', nameLocation: 'middle', nameGap: 95,
            nameTextStyle: { color: DARK, fontSize: 47, fontFamily: FONT }
        });
        var d = yDefs[i];
        yAxes.push({
            type: 'value', gridIndex: i, position: 'left', min: d.min, max: d.max,
            axisLine: { show: true, onZero: false, lineStyle: { color: AXIS_BLUE, width: 2 } },
            axisTick: { show: true, inside: true, length: 28, customValues: d.ticks, lineStyle: { color: AXIS_BLUE, width: 2 } },
            axisLabel: { color: AXIS_BLUE, fontSize: 37, fontFamily: FONT, margin: 30, customValues: d.ticks },
            splitLine: { show: false },
            name: d.name, nameLocation: 'middle', nameGap: d.gap,
            nameTextStyle: { color: AXIS_BLUE, fontSize: 47, fontFamily: FONT }
        });
    });
    gridTops.forEach(function (top, i) {
        yAxes.push({
            type: 'value', gridIndex: i, position: 'right', min: 0, max: 1,
            axisLine: { show: true, onZero: false, lineStyle: { color: AXIS_BLUE, width: 2 } },
            axisTick: { show: false }, axisLabel: { show: false }, splitLine: { show: false }
        });
    });

    var xMark = 'path://M0,2L2,0L5,3L8,0L10,2L7,5L10,8L8,10L5,7L2,10L0,8L3,5Z';

    var series = [
        line(0, 'MWR 2C', bt23Mwr2c, C_2C, 3.5, 2),
        line(0, 'MWR 3C', bt23Mwr3c, C_3C, 4.5, 2),
        line(0, 'Phy-Iter', bt23Phy, C_PHY, 10, 4),
        windows(0, wetWindows, 'rgba(210,180,140,0.5)'),

        line(1, 'MWR2C', bt31Mwr2c, C_2C, 3.5, 2),
        line(1, 'MWR 3C', bt31Mwr3c, C_3C, 4.5, 2),
        line(1, 'Phy-Iter', bt31Phy, C_PHY, 9, 4),

        line(2, 'MWR 2C PWV', pwvMwr2c, C_2C, 3.5, 2),
        line(2, 'MWR 3C PWV', pwvMwr3c, C_3C, 4.5, 2),
        ciBand(2, lowHigh(pwvPhy, pwvPhyErr, -1), lowHigh(pwvPhy, pwvPhyErr, 1), 'rgba(255,140,0,0.2)', 3),
        line(2, 'Phy-Iter PWV', pwvPhy, C_PHY, 9, 4),
        windows(2, only2cWindows, 'rgba(210,180,140,0.5)'),
        windows(2, only3cWindows, 'rgba(165,42,42,0.5)'),

        line(3, 'MWR 2C LWP', lwpMwr2c, C_2C, 3.5, 2),
        line(3, 'MWR 3C LWP', lwpMwr3c, C_3C, 4.5, 2),
        ciBand(3, lwpPhyLo, lwpPhyHi, 'rgba(255,140,0,0.2)', 3),
        line(3, 'Phy-Iter LWP', lwpPhy, C_PHY, 8, 4),
        ciBand(3, lowHigh(lwpAdia, lwpAdiaErr, -1), lowHigh(lwpAdia, lwpAdiaErr, 1), 'rgba(128,0,128,0.2)', 5),
        line(3, 'Adiabatic LWP', lwpAdia, C_ADIA, 4, 6),
        { type: 'scatter', xAxisIndex: 3, yAxisIndex: 3, data: isolated(lwpAdia), symbol: xMark, symbolSize: 22,
          itemStyle: { color: C_ADIA }, silent: true, z: 6 },
        { type: 'scatter', xAxisIndex: 3, yAxisIndex: 3, data: isolated(lwpPhy), symbol: xMark, symbolSize: 22,
          itemStyle: { color: C_PHY }, silent: true, z: 6 },
        windows(3, flagOtherWindows, 'rgba(204,204,204,0.5)'),
        windows(3, clearWindows, 'rgba(255,255,0,0.5)'),
        windows(3, rainWindows, 'rgba(0,255,255,0.5)'),

        { type: 'scatter', xAxisIndex: 4, yAxisIndex: 4, symbol: 'circle', symbolSize: 8,
          data: pts(dqFlag).concat(dqFlagExtra.map(function (p) { return [hours[p[0]], p[1]]; })),
          itemStyle: { color: C_PHY }, silent: true, z: 4 }
    ];

    // legends, drawn in pixels like the figure's own legend boxes
    var legendFont = '39px "' + FONT + '"';
    var els = [];
    function entry(x1, x2, tx, y, color, width, label, marker) {
        if (color) els.push({ type: 'line', shape: { x1: x1, y1: y, x2: x2, y2: y }, style: { stroke: color, lineWidth: width }, z: 100 });
        if (marker) {
            var cx = (x1 + x2) / 2;
            els.push({ type: 'line', shape: { x1: cx - 9, y1: y - 9, x2: cx + 9, y2: y + 9 }, style: { stroke: color, lineWidth: 6 }, z: 101 });
            els.push({ type: 'line', shape: { x1: cx - 9, y1: y + 9, x2: cx + 9, y2: y - 9 }, style: { stroke: color, lineWidth: 6 }, z: 101 });
        }
        if (label) els.push({ type: 'text', x: tx, y: y, style: { text: label, font: legendFont, fill: '#000', align: 'left', verticalAlign: 'middle' }, z: 100 });
    }
    entry(627, 861, 885, 394, C_2C, 4, 'MWR 2C (tan = wet window)');
    entry(627, 861, 885, 452, C_3C, 4.5, 'MWR 3C');
    entry(627, 861, 885, 511, C_PHY, 9, 'Phy-Iter');

    entry(2463, 2698, 2724, 1518, C_2C, 3.5, 'MWR2C');
    entry(2463, 2698, 2724, 1577, C_3C, 4.5, 'MWR 3C');
    entry(2463, 2698, 2724, 1636, C_PHY, 8, 'Phy-Iter');

    entry(454, 688, 713, 2660, C_2C, 3.5, 'MWR 2C PWV');
    entry(454, 688, 713, 2718, C_3C, 4.5, 'MWR 3C PWV');
    entry(454, 688, 713, 2776, null, 0, 'Phy-Iter PWV');
    entry(454, 688, 713, 2831, C_PHY, 8, '(tan = MWR 2C only)');
    entry(454, 688, 713, 2885, null, 0, '(brown = MWR 3C only)');

    entry(548, 782, 807, 3736, C_2C, 3.5, 'MWR 2C LWP');
    entry(548, 782, 807, 3794, C_3C, 4.5, 'MWR 3C LWP');
    entry(548, 782, 807, 3853, C_PHY, 8, 'Phy-Iter LWP', true);
    entry(548, 782, 807, 3911, C_ADIA, 4, 'Adiabatic LWP', true);

    var chart = echarts.init(document.getElementById('chart'), null, { renderer: 'canvas', devicePixelRatio: 1, width: 3825, height: 6000 });
    chart.setOption({
        animation: false,
        backgroundColor: '#ffffff',
        textStyle: { fontFamily: FONT },
        grid: grids,
        xAxis: xAxes,
        yAxis: yAxes,
        series: series,
        graphic: { elements: els }
    });
</script>
</body>
</html>
